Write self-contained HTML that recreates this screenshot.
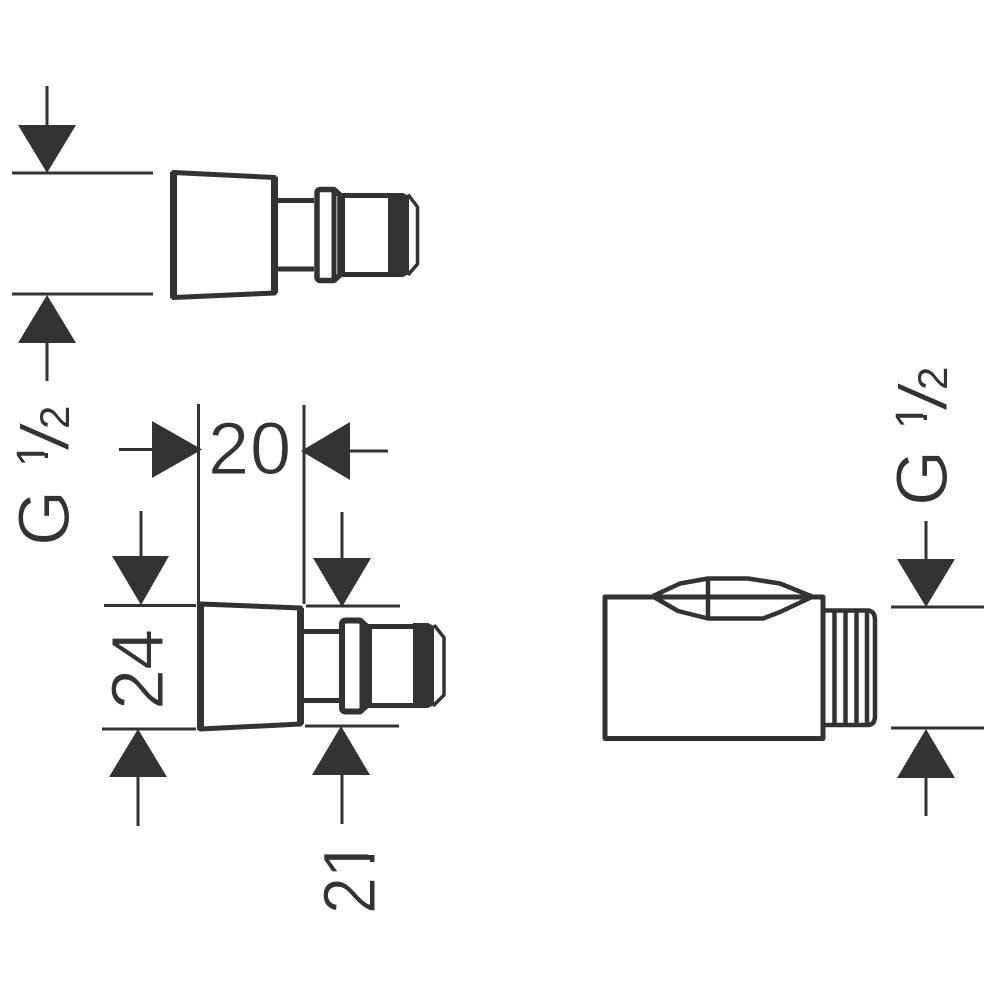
<!DOCTYPE html>
<html><head><meta charset="utf-8"><style>
html,body{margin:0;padding:0;background:#fff}
svg{display:block}
text{font-family:"Liberation Sans",sans-serif;fill:#333;stroke:#fff;stroke-width:1;paint-order:fill stroke}
.s{stroke:none}
.sl{stroke-width:2}
</style></head><body>
<svg width="1000" height="1000" viewBox="0 0 1000 1000" xmlns="http://www.w3.org/2000/svg">
<rect width="1000" height="1000" fill="#fff"/>
<g fill="none" stroke="#333" stroke-width="3">
<!-- dimension lines -->
<path d="M12 173H153M12 294H153M47 86V130M47 343V381"/>
<path d="M198.500 404V604M304 405V604M119 449.500H155M345 451H388"/>
<path d="M104 605.500H196M306 606H400M102 729H196M305 726H399"/>
<path d="M141 511V558M138 775V826M342 512V560M342 773V824"/>
<path d="M891 607H984M891 728H984M926 521V562M926 774V816"/>
</g>
<g fill="#333">
<path d="M18 125H76L47 173Z"/><path d="M18 343H76L47 295Z"/>
<path d="M152 421V478L202 449.500Z"/><path d="M350 422V480L301 451Z"/>
<path d="M112 556H169L141 605Z"/><path d="M109 777H167L138 729Z"/>
<path d="M313 558H371L342 607Z"/><path d="M312 775H370L341 726Z"/>
<path d="M897 559H955L926 607Z"/><path d="M897 778H955L926 729Z"/>
</g>
<!-- top fitting -->
<g fill="none" stroke="#333" stroke-linejoin="round">
<path d="M173.500 172.500L274.500 177.500V293L173.500 297.500Z" stroke-width="5"/>
<path d="M173.500 172V298" stroke-width="7"/>
<path d="M274.500 177V293" stroke-width="7"/>
<path d="M278 200.500H314M278 269H314" stroke-width="5"/>
<path d="M317 193Q317 189.500 321 189.500H334L340 195V275L334 280.500H321Q317 280.500 317 277Z" stroke-width="5.500"/>
<path d="M334 190V280" stroke-width="5"/>
<path d="M343 196V274" stroke-width="4"/>
<path d="M342 195.500H390M342 274.500H390" stroke-width="5"/>
<path d="M408 194.500L417.500 207V264L408 275" stroke-width="3.500"/>
</g>
<path d="M388 193H403L409 196V274L403 277H388Z" fill="#333"/>
<!-- dimensioned fitting -->
<g fill="none" stroke="#333" stroke-linejoin="round">
<path d="M200.500 604L300.500 608V724L200.500 729Z" stroke-width="5"/>
<path d="M200.500 603V730" stroke-width="7"/>
<path d="M300.500 608V724" stroke-width="7"/>
<path d="M304 631.500H340M304 700.500H340" stroke-width="5"/>
<path d="M342 624Q342 620.500 346 620.500H360L366 626V706L360 711.500H346Q342 711.500 342 708Z" stroke-width="6"/>
<path d="M361.500 621V711" stroke-width="4"/>
<path d="M370 626V706" stroke-width="4"/>
<path d="M368 626.500H415M368 705.500H415" stroke-width="5"/>
<path d="M434 625L444 637.500V695L433 706" stroke-width="3.500"/>
</g>
<path d="M413 623H428L434 626V705L428 708H413Z" fill="#333"/>
<!-- right fitting -->
<g fill="none" stroke="#333" stroke-linejoin="round">
<path d="M605 597H823V738.500H605Z" stroke-width="5"/>
<path d="M653 596L680 583.500L708 578.500H748L780 583.500L812 596.500" stroke-width="4.500"/>
<path d="M653 596.500L678 611L708 618.500H763L780 612L812 597" stroke-width="4.500"/>
<path d="M708 578V619" stroke-width="4.500"/>
<path d="M825 610.500H869Q875 612 875 620V716Q875 724 869 725H825" stroke-width="4.500"/>
<path d="M834.500 610V725M845.500 610V725M856.500 610V725M867 610V725" stroke-width="4.500"/>
</g>
<!-- labels -->
<text transform="translate(208 474)" font-size="74">2</text>
<text transform="translate(250 474)" font-size="74">0</text>
<text transform="translate(163 710) rotate(-90)" font-size="74">2</text>
<text transform="translate(163 670) rotate(-90)" font-size="74">4</text>
<text transform="translate(375 914) rotate(-90) scale(.9 1)" font-size="74">2</text>
<text transform="translate(375 879) rotate(-90)" font-size="74">1</text>
<rect x="368" y="841" width="9" height="14" fill="#fff"/>
<rect x="368" y="862" width="9" height="12" fill="#fff"/>
<!-- left G 1/2 -->
<text transform="translate(69 546) rotate(-90)" font-size="72">G</text>
<text class="s" transform="translate(48 467) rotate(-90)" font-size="45">1</text>
<rect x="44" y="443" width="6" height="10" fill="#fff"/>
<rect x="44" y="458" width="6" height="9" fill="#fff"/>
<text class="sl" transform="translate(69 452) rotate(-90) scale(1.6 1)" font-size="69">/</text>
<text class="s" transform="translate(69 429) rotate(-90)" font-size="42">2</text>
<!-- right G 1/2 -->
<text transform="translate(947 506) rotate(-90)" font-size="72">G</text>
<text class="s" transform="translate(927 429) rotate(-90)" font-size="45">1</text>
<rect x="923" y="405" width="6" height="10" fill="#fff"/>
<rect x="923" y="420" width="6" height="9" fill="#fff"/>
<text class="sl" transform="translate(947 412) rotate(-90) scale(1.6 1)" font-size="69">/</text>
<text class="s" transform="translate(947 390) rotate(-90)" font-size="42">2</text>
</svg>
</body></html>
